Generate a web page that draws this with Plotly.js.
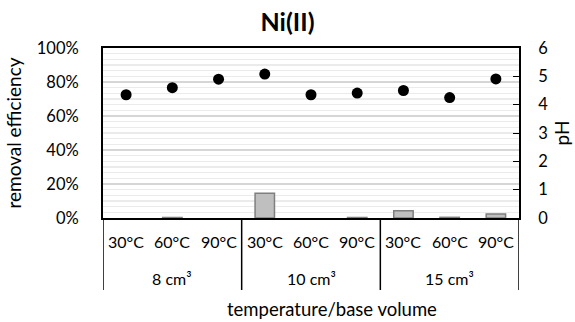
<!DOCTYPE html>
<html>
<head>
<meta charset="utf-8">
<script src="https://cdn.plot.ly/plotly-3.0.1.min.js"></script>
<style>html,body{margin:0;padding:0;background:#fff;}#chart{width:575px;height:322px;}</style>
</head>
<body>
<div id="chart"></div>
<script>
// ---- data ----
const volumes = ['8 cm³', '10 cm³', '15 cm³'];
const temperatures = ['30°C', '60°C', '90°C'];
const removalEfficiency = [0.000, 0.003, 0.000, 0.146, 0.000, 0.003, 0.042, 0.004, 0.024];
const pHValues = [4.35, 4.60, 4.90, 5.08, 4.35, 4.41, 4.50, 4.25, 4.91];
const leftTicks = [0, 0.2, 0.4, 0.6, 0.8, 1.0];
const rightTicks = [0, 1, 2, 3, 4, 5, 6];

// ---- build ----
const FONT = 'Lato, "Noto Sans", sans-serif';
const cats = [];
const catTemp = [];
volumes.forEach(v => temperatures.forEach(t => { cats.push(v + ' ' + t); catTemp.push(t); }));

const bars = {
  type: 'bar', x: cats, y: removalEfficiency, yaxis: 'y',
  width: 0.42,
  marker: {color: '#bfbfbf', line: {color: '#7f7f7f', width: removalEfficiency.map(v => v > 0 ? 1.5 : 0)}},
  hoverinfo: 'x+y', showlegend: false
};
const dots = {
  type: 'scatter', mode: 'markers', x: cats, y: pHValues, yaxis: 'y2',
  marker: {color: '#000', size: 11},
  showlegend: false
};

const annotations = [];
const shapes = [];
catTemp.forEach((t, i) => annotations.push({
  xref: 'x', yref: 'paper', x: i, y: -0.141, text: t, showarrow: false,
  xanchor: 'center', yanchor: 'middle', font: {family: FONT, size: 16, color: '#000'}
}));
let start = 0;
const bounds = [-0.5];
volumes.forEach(v => {
  const n = temperatures.length;
  annotations.push({
    xref: 'x', yref: 'paper', x: start + (n - 1) / 2, y: -0.353, text: v, showarrow: false,
    xanchor: 'center', yanchor: 'middle', font: {family: FONT, size: 16, color: '#000'}
  });
  start += n;
  bounds.push(start - 0.5);
});
bounds.forEach(b => shapes.push({
  type: 'line', xref: 'x', yref: 'paper', x0: b, x1: b, y0: 0, y1: -0.4235,
  line: {color: '#000', width: 1.5}
}));
annotations.push({
  xref: 'paper', yref: 'paper', x: 0.55, y: -0.535, text: 'temperature/base volume',
  showarrow: false, xanchor: 'center', yanchor: 'middle',
  font: {family: FONT, size: 18.5, color: '#000'}
});

const layout = {
  width: 575, height: 322,
  margin: {l: 103, r: 56, t: 48, b: 104},
  paper_bgcolor: '#fff', plot_bgcolor: '#fff',
  font: {family: FONT, size: 16, color: '#000'},
  title: {text: '<b>Ni(II)</b>', x: 0.5, xref: 'container', y: 0.932, yref: 'container',
          xanchor: 'center', yanchor: 'middle', font: {family: FONT, size: 25, color: '#000'}},
  xaxis: {
    type: 'category', range: [-0.5, cats.length - 0.5], showticklabels: false,
    showline: true, linecolor: '#000', linewidth: 2, mirror: true, ticks: '', showgrid: false,
    zeroline: false
  },
  yaxis: {
    range: [0, 1], tickvals: leftTicks, tickformat: '.0%',
    showgrid: true, gridcolor: '#d6d6d6', gridwidth: 1.5,
    minor: {dtick: 0.2 / 6, showgrid: true, gridcolor: '#ebebeb', gridwidth: 1.5, ticks: ''},
    showline: true, linecolor: '#000', linewidth: 2, ticks: '', zeroline: false,
    ticklabelstandoff: 19,
    title: {text: 'removal efficiency', font: {family: FONT, size: 19, color: '#000'}, standoff: 10},
    tickfont: {family: FONT, size: 16.5, color: '#000'}
  },
  yaxis3: {
    range: [0, 1], overlaying: 'y', side: 'left', tickvals: [0.1, 0.2, 0.3, 0.4, 0.5, 0.6, 0.7, 0.8, 0.9],
    ticks: 'inside', ticklen: 6, tickwidth: 1, tickcolor: '#000', showticklabels: false,
    showgrid: false, zeroline: false, showline: false
  },
  yaxis2: {
    range: [0, 6], overlaying: 'y', side: 'right', tickvals: rightTicks,
    ticks: 'inside', ticklen: 6, tickwidth: 1, tickcolor: '#000',
    showgrid: false, zeroline: false, showline: true, linecolor: '#000', linewidth: 2,
    ticklabelstandoff: 14,
    title: {text: 'pH', font: {family: FONT, size: 19, color: '#000'}, standoff: 8},
    tickfont: {family: FONT, size: 16.5, color: '#000'}
  },
  annotations: annotations,
  shapes: shapes,
  bargap: 0.58
};

Plotly.newPlot('chart', [bars, dots], layout, {displayModeBar: false, staticPlot: true});
</script>
</body>
</html>
